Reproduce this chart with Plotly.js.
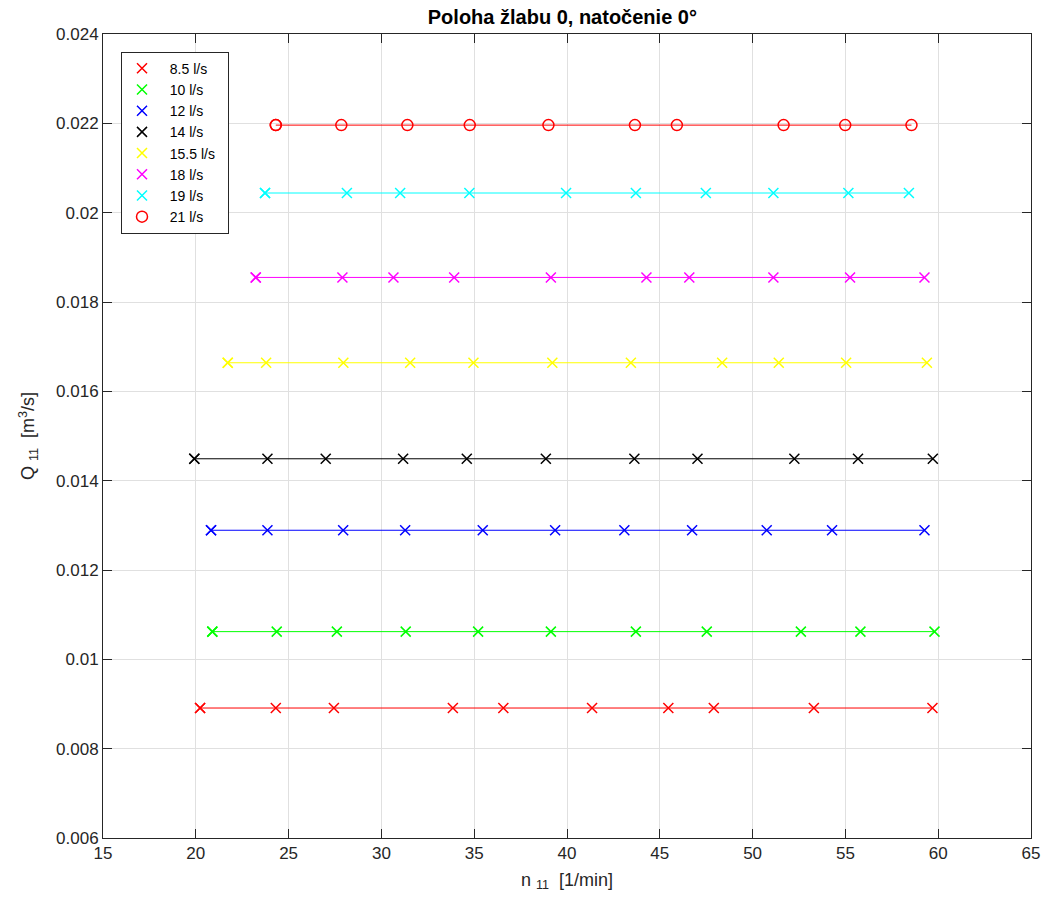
<!DOCTYPE html>
<html>
<head>
<meta charset="utf-8">
<script src="https://cdn.plot.ly/plotly-3.0.1.min.js"></script>
<style>html,body{margin:0;padding:0;background:#fff;}</style>
</head>
<body>
<div id="chart" style="width:1045px;height:898px;"></div>
<script>
// Series names
const seriesNames = ["8.5 l/s", "10 l/s", "12 l/s", "14 l/s", "15.5 l/s", "18 l/s", "19 l/s", "21 l/s"];
const seriesColors = ["#ff0000", "#00ff00", "#0000ff", "#000000", "#ffff00", "#ff00ff", "#00ffff", "#ff0000"];

// n11 values [1/min]
const n11_85  = [20.23, 24.31, 27.44, 33.85, 36.57, 41.35, 45.46, 47.91, 53.30, 59.69];
const n11_10  = [20.89, 24.36, 27.60, 31.31, 35.21, 39.13, 43.71, 47.53, 52.60, 55.81, 59.80];
const n11_12  = [20.82, 23.86, 27.94, 31.28, 35.46, 39.36, 43.09, 46.74, 50.76, 54.28, 59.26];
const n11_14  = [19.92, 23.86, 27.00, 31.17, 34.60, 38.86, 43.63, 47.03, 52.25, 55.68, 59.71];
const n11_155 = [21.72, 23.79, 27.95, 31.55, 34.96, 39.21, 43.44, 48.36, 51.41, 55.04, 59.39];
const n11_18  = [23.23, 27.90, 30.65, 33.92, 39.13, 44.28, 46.59, 51.12, 55.25, 59.26];
const n11_19  = [23.73, 28.14, 31.01, 34.74, 39.95, 43.71, 47.48, 51.12, 55.16, 58.42];
const n11_21  = [24.31, 27.84, 31.40, 34.76, 39.00, 43.66, 45.92, 51.67, 54.99, 58.56];

// Q11 values [m3/s] (constant per series)
const q11_85  = 0.00891;
const q11_10  = 0.01062;
const q11_12  = 0.01289;
const q11_14  = 0.01449;
const q11_155 = 0.01664;
const q11_18  = 0.01855;
const q11_19  = 0.02044;
const q11_21  = 0.02196;

const xTickVals = [15, 20, 25, 30, 35, 40, 45, 50, 55, 60, 65];
const xTickText = ["15", "20", "25", "30", "35", "40", "45", "50", "55", "60", "65"];
const yTickVals = [0.006, 0.008, 0.010, 0.012, 0.014, 0.016, 0.018, 0.020, 0.022, 0.024];
const yTickText = ["0.006", "0.008", "0.01", "0.012", "0.014", "0.016", "0.018", "0.02", "0.022", "0.024"];

const nList = [n11_85, n11_10, n11_12, n11_14, n11_155, n11_18, n11_19, n11_21];
const qList = [q11_85, q11_10, q11_12, q11_14, q11_155, q11_18, q11_19, q11_21];

const FONT = "Liberation Sans, Arial, Helvetica, sans-serif";
const NBSP = "\u00a0";
const traces = [];

function markerFor(i) {
  return i === 7
    ? {symbol: "circle-open", size: 11, color: seriesColors[i], line: {width: 1.5, color: seriesColors[i]}}
    : {symbol: "x-thin-open", size: 10, color: seriesColors[i], line: {width: 1.5, color: seriesColors[i]}};
}

nList.forEach((xs, i) => {
  traces.push({
    x: xs,
    y: xs.map(() => qList[i]),
    type: "scatter",
    mode: "lines+markers",
    line: {color: seriesColors[i], width: 1},
    marker: markerFor(i),
    showlegend: false,
    hoverinfo: "skip"
  });
});

// legend entries (markers only)
nList.forEach((xs, i) => {
  traces.push({
    x: [xs[0]],
    y: [qList[i]],
    type: "scatter",
    mode: "markers",
    name: NBSP + NBSP + seriesNames[i] + NBSP + NBSP,
    marker: markerFor(i),
    showlegend: true,
    hoverinfo: "skip"
  });
});

const axisCommon = {
  showline: true,
  linecolor: "#262626",
  linewidth: 1,
  mirror: "ticks",
  ticks: "inside",
  ticklen: 9,
  tickwidth: 1,
  tickcolor: "#262626",
  showgrid: true,
  gridcolor: "#e0e0e0",
  gridwidth: 1,
  zeroline: false,
  tickfont: {family: FONT, size: 17, color: "#262626"},
  tickmode: "array"
};

const layout = {
  width: 1045,
  height: 898,
  margin: {l: 103, r: 14, t: 34, b: 60},
  paper_bgcolor: "#ffffff",
  plot_bgcolor: "#ffffff",
  font: {family: FONT, color: "#262626"},
  title: {
    text: "<b>Poloha žlabu 0, natočenie 0°</b>",
    font: {family: FONT, size: 20, color: "#000000"},
    x: 0.495, xref: "paper", xanchor: "center",
    y: 0.981, yref: "container", yanchor: "middle"
  },
  xaxis: Object.assign({}, axisCommon, {
    range: [15, 65],
    tickvals: xTickVals,
    ticktext: xTickText,
    title: {text: "n <sub>11</sub>  [1/min]", font: {family: FONT, size: 18, color: "#262626"}, standoff: 10}
  }),
  yaxis: Object.assign({}, axisCommon, {
    range: [0.006, 0.024],
    tickvals: yTickVals,
    ticktext: yTickText,
    title: {text: "Q <sub>11</sub>  [m<sup>3</sup>/s]", font: {family: FONT, size: 18, color: "#262626"}, standoff: 16}
  }),
  legend: {
    x: 0.0194, y: 0.978, xanchor: "left", yanchor: "top",
    xref: "paper", yref: "paper",
    bgcolor: "#ffffff",
    bordercolor: "#262626",
    borderwidth: 1,
    font: {family: FONT, size: 14, color: "#000000"},
    tracegroupgap: 0,
    traceorder: "normal"
  },
  showlegend: true
};

Plotly.newPlot("chart", traces, layout, {displayModeBar: false, staticPlot: true});
</script>
</body>
</html>
